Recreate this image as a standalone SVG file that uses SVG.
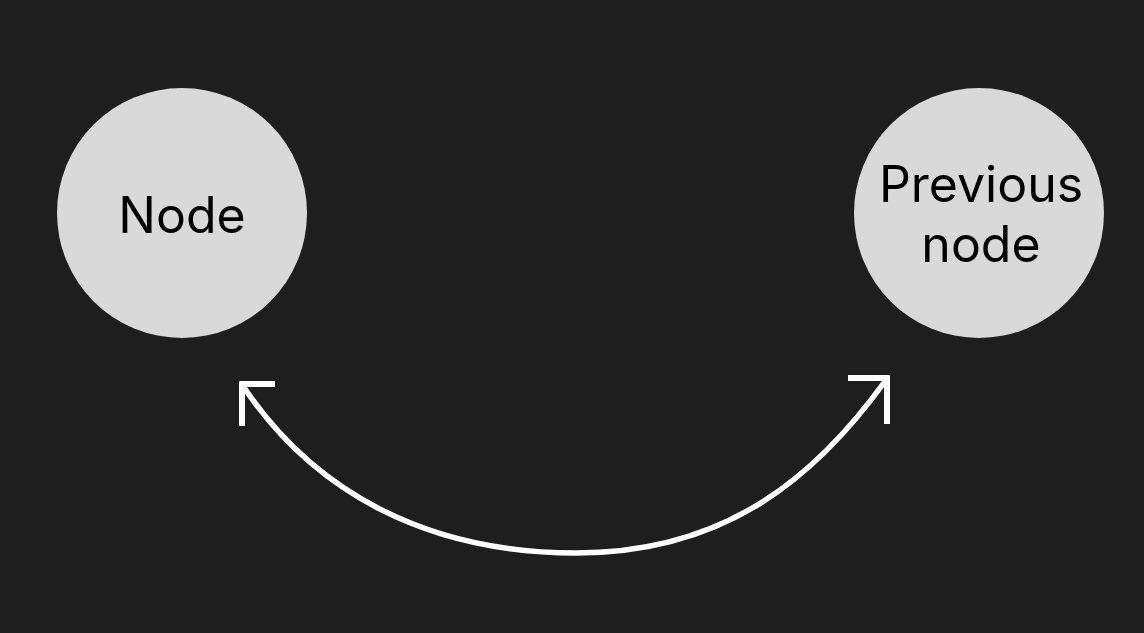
<svg xmlns="http://www.w3.org/2000/svg" width="1144" height="633" viewBox="0 0 1144 633">
<style>
.node circle{fill:#d9d9d9}
.node text{font-family:Inter,"Noto Sans",sans-serif;font-size:50px;fill:#000;text-anchor:middle}
.conn path{fill:none;stroke:#fff;stroke-width:5.5}
.conn .head{stroke-width:6;stroke-linejoin:miter;stroke-linecap:butt}
</style>
<rect width="1144" height="633" fill="#1e1e1e"/>
<g id="node-node" class="node">
<circle cx="182" cy="213" r="125"/>
<text x="182" y="233">Node</text>
</g>
<g id="node-previous" class="node">
<circle cx="979" cy="213" r="125"/>
<text x="981" y="202">Previous</text>
<text x="981" y="262">node</text>
</g>
<g id="connectors" class="conn">
<path d="M243,386 C313,491 426,553 576,553 C726,553 816,477 886,380"/>
<path class="head" d="M275,384 L242,384 L242,426"/>
<path class="head" d="M848,378 L887,378 L887,424"/>
</g>
</svg>
